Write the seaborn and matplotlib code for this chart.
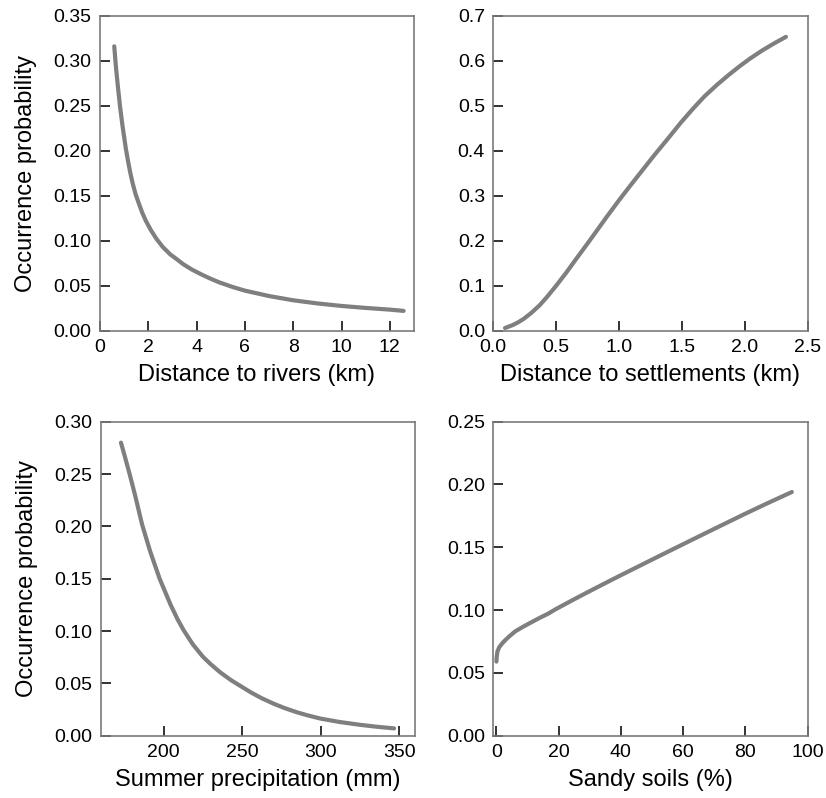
import matplotlib
matplotlib.use("Agg")
import matplotlib.pyplot as plt
import seaborn as sns

# response curves
rivers_km = [0.59, 0.62, 0.65, 0.70, 0.75, 0.83, 0.93, 1.06, 1.15, 1.25, 1.35, 1.47,
             1.60, 1.75, 1.90, 2.10, 2.34, 2.60, 2.90, 3.20, 3.44, 3.80, 4.20, 4.60,
             4.96, 5.50, 6.0, 7.0, 8.0, 9.0, 10.0, 11.0, 12.0, 12.57]
rivers_p = [0.316, 0.306, 0.296, 0.282, 0.269, 0.249, 0.228, 0.204, 0.190, 0.176,
            0.164, 0.152, 0.142, 0.131, 0.122, 0.112, 0.102, 0.093, 0.085, 0.079,
            0.074, 0.068, 0.0625, 0.0575, 0.0535, 0.0485, 0.0445, 0.0385, 0.0338,
            0.0303, 0.0275, 0.0253, 0.0234, 0.0220]

settle_km = [0.093, 0.15, 0.20, 0.24, 0.30, 0.37, 0.43, 0.50, 0.58, 0.663, 0.75,
             0.83, 0.902, 1.0, 1.08, 1.167, 1.28, 1.392, 1.49, 1.59, 1.68, 1.777,
             1.87, 1.96, 2.043, 2.14, 2.23, 2.327]
settle_p = [0.006, 0.012, 0.019, 0.026, 0.039, 0.057, 0.076, 0.100, 0.129, 0.161,
            0.194, 0.225, 0.253, 0.290, 0.319, 0.350, 0.390, 0.428, 0.462, 0.494,
            0.521, 0.546, 0.568, 0.588, 0.605, 0.623, 0.638, 0.653]

precip_mm = [172.9, 175.5, 178.4, 182.0, 186.3, 191.5, 197.5, 204.5, 209.0, 212.7,
             218.5, 225.0, 230.0, 236.0, 243.0, 250.0, 256.0, 262.6, 270.0, 277.0,
             285.0, 292.0, 300.0, 312.0, 325.0, 336.0, 346.7]
precip_p = [0.280, 0.266, 0.250, 0.229, 0.202, 0.176, 0.150, 0.125, 0.111, 0.101,
            0.0875, 0.0755, 0.0683, 0.0606, 0.053, 0.0465, 0.041, 0.0357, 0.0306,
            0.0264, 0.0223, 0.0193, 0.0163, 0.0131, 0.0104, 0.0085, 0.0070]

sandy_pct = [0.0, 0.1, 0.33, 0.9, 1.93, 3.0, 4.1, 6.0, 8.4, 11.0, 13.8, 16.5, 19.1,
             24.5, 29.9, 35.0, 40.0, 50.0, 60.0, 70.0, 80.0, 87.0, 94.9]
sandy_p = [0.059, 0.063, 0.067, 0.0705, 0.0737, 0.0765, 0.079, 0.083, 0.0865, 0.090,
           0.0937, 0.097, 0.1008, 0.1080, 0.1150, 0.1215, 0.1278, 0.1402, 0.1525,
           0.1647, 0.1768, 0.1850, 0.1940]

sns.set_style("ticks")
plt.rcParams["font.family"] = ["Liberation Sans", "DejaVu Sans"]

panels = [
    (rivers_km, rivers_p, "Distance to rivers (km)", (0, 13), [0, 2, 4, 6, 8, 10, 12],
     (0, 0.35), [0, 0.05, 0.10, 0.15, 0.20, 0.25, 0.30, 0.35], "{:.2f}", "{:g}"),
    (settle_km, settle_p, "Distance to settlements (km)", (0, 2.5), [0, 0.5, 1.0, 1.5, 2.0, 2.5],
     (0, 0.7), [0, 0.1, 0.2, 0.3, 0.4, 0.5, 0.6, 0.7], "{:.1f}", "{:.1f}"),
    (precip_mm, precip_p, "Summer precipitation (mm)", (160, 360), [200, 250, 300, 350],
     (0, 0.30), [0, 0.05, 0.10, 0.15, 0.20, 0.25, 0.30], "{:.2f}", "{:g}"),
    (sandy_pct, sandy_p, "Sandy soils (%)", (-1, 100), [0, 20, 40, 60, 80, 100],
     (0, 0.25), [0, 0.05, 0.10, 0.15, 0.20, 0.25], "{:.2f}", "{:g}"),
]

W, H = 826, 798
boxes = [(100, 414, 15.7, 330.7), (493.3, 807.7, 15.7, 330.7),
         (100.7, 415, 421.7, 735.7), (493.3, 807.7, 421.7, 735.7)]

fig = plt.figure(figsize=(W / 100, H / 100), dpi=100)
spine_col = "#7a7a7a"

for i, (xs, ys, xlabel, xlim, xticks, ylim, yticks, yfmt, xfmt) in enumerate(panels):
    l, r, t, b = boxes[i]
    ax = fig.add_axes([l / W, 1 - b / H, (r - l) / W, (b - t) / H])
    sns.lineplot(x=xs, y=ys, ax=ax, color="#7f7f7f", linewidth=3.0, sort=False)
    ax.set_xlim(*xlim)
    ax.set_ylim(*ylim)
    ax.set_xticks(xticks)
    ax.set_xticklabels([xfmt.format(v) for v in xticks])
    ax.set_yticks(yticks)
    ax.set_yticklabels([yfmt.format(v) for v in yticks])
    ax.tick_params(direction="in", length=7, width=1.2, color="#111111",
                   labelsize=14, labelcolor="black", pad=6, top=False, right=False,
                   bottom=True, left=True)
    for sp in ax.spines.values():
        sp.set_visible(True)
        sp.set_color(spine_col)
        sp.set_linewidth(1.2)
    ax.set_xlabel(xlabel, fontsize=17, labelpad=6, color="black")
    if i % 2 == 0:
        ax.set_ylabel("Occurrence probability", fontsize=17, labelpad=12, color="black")
    else:
        ax.set_ylabel("")

fig.savefig("out.png", dpi=100)
